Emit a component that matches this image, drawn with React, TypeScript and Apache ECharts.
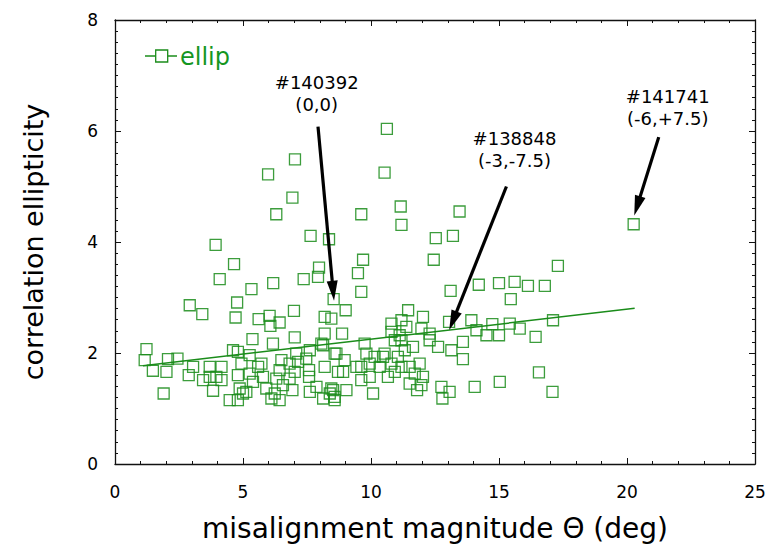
import React, { useEffect, useRef } from "react";
import * as echarts from "echarts";

// misalignment magnitude Θ (deg)
const theta = [
  10.62, 10.53, 7.03, 5.98, 6.93, 6.3, 9.62, 11.16, 11.19, 13.46, 20.26,
  3.93, 7.64, 8.36, 4.65, 4.09, 6.18, 5.33, 7.97, 7.93, 7.37,
  12.53, 13.2, 9.69, 12.45, 9.49, 9.62, 13.11, 14.21, 15.0, 15.61, 16.13, 16.79, 17.3, 15.46,
  2.92, 3.41, 4.77, 4.71, 5.61, 6.04, 6.43, 6.99, 6.07, 8.54, 8.19, 8.45,
  5.37, 6.17, 7.02, 8.19, 8.06,
  9.01, 11.45, 11.19, 12.03, 10.8, 11.97, 13.05, 13.92, 14.74, 15.42, 15.81, 17.11, 14.12, 14.51, 15.0, 16.43,
  8.87, 9.75, 10.8, 11.19, 11.64, 12.29, 12.62, 13.14, 13.59, 13.59, 11.12, 11.38, 10.93, 12.29,
  1.23, 1.16, 2.07, 2.44, 1.48, 2.01, 1.9, 2.88, 3.05, 3.44, 3.7, 3.83, 4.16, 4.16, 4.61, 4.8, 4.8, 4.87, 4.8,
  5.26, 5.26, 5.39, 5.13, 5.59, 5.91, 6.11, 6.43, 6.3, 6.43, 6.5, 6.56, 6.82, 6.82, 6.93, 7.15, 7.02,
  7.58, 7.58, 7.61, 7.61, 8.13, 8.19, 8.13, 8.45, 8.58, 8.65, 8.71, 3.96, 5.72,
  3.7, 4.94, 5.78, 7.08, 7.47, 7.87, 8.39, 6.24, 4.48, 5.0,
  8.58, 8.97, 8.91, 8.52, 8.58, 9.04, 9.62, 9.62, 9.82, 10.08, 10.14, 10.34, 10.53, 10.66, 10.8,
  11.05, 11.19, 11.32, 11.51, 11.71, 11.8, 11.9, 11.97, 12.75, 12.79, 13.07, 14.05, 15.03, 16.56, 17.09,
  9.95, 9.43, 9.95, 10.47, 10.93, 11.51, 12.03,
];

// correlation ellipticity
const ellipticity = [
  6.04, 5.25, 5.49, 5.22, 4.8, 4.5, 4.5, 4.64, 4.31, 4.55, 4.32,
  3.95, 4.11, 4.05, 3.6, 3.33, 3.26, 3.15, 3.54, 3.37, 3.33,
  4.07, 4.11, 3.68, 3.68, 3.44, 3.1, 3.12, 3.23, 3.26, 3.28, 3.21, 3.21, 3.57, 2.97,
  2.86, 2.7, 2.91, 2.64, 2.61, 2.67, 2.55, 2.76, 2.49, 2.97, 2.65, 2.62,
  2.25, 2.17, 2.28, 2.35, 2.17,
  2.77, 2.77, 2.59, 2.65, 2.53, 2.44, 2.56, 2.59, 2.52, 2.53, 2.44, 2.59, 2.41, 2.32, 2.32, 2.29,
  2.35, 2.17, 2.38, 2.23, 2.11, 2.35, 2.11, 2.05, 2.2, 1.89, 2.32, 2.47, 2.23, 2.23,
  2.07, 1.87, 1.89, 1.9, 1.68, 1.66, 1.27, 1.6, 1.75, 1.51, 1.57, 1.32, 1.75, 1.51, 2.05, 2.02, 1.6, 1.36, 1.15,
  1.96, 1.63, 1.48, 1.3, 1.75, 1.36, 1.18, 1.15, 1.54, 1.69, 1.87, 1.42, 1.81, 1.54, 1.33, 1.84, 1.66,
  1.69, 1.57, 1.3, 2.05, 2.14, 1.75, 1.18, 1.36, 1.21, 1.99, 1.66, 1.57, 1.81,
  1.75, 1.81, 1.57, 1.99, 1.9, 1.39, 1.27, 1.27, 1.15, 1.27,
  1.99, 1.87, 1.66, 1.33, 1.15, 1.33, 1.75, 1.51, 1.99, 1.27, 1.93, 1.75, 1.99, 1.57, 1.81,
  1.93, 1.75, 2.05, 1.45, 1.63, 1.33, 1.81, 1.42, 1.39, 1.18, 1.3, 1.39, 1.48, 1.65, 1.3,
  1.57, 1.75, 1.81, 1.93, 1.66, 1.75, 1.57,
];

// linear fit endpoints [Θ, ellipticity]
const fitLine = [
  [1.09, 1.77],
  [20.3, 2.805],
];

// annotation arrows: start [Θ, e] -> tip [Θ, e]
const arrowFrom = [
  [7.93, 6.08],
  [15.29, 5.0],
  [21.24, 5.89],
];
const arrowTo = [
  [8.52, 3.12],
  [13.2, 2.58],
  [20.4, 4.65],
];
const annotationTexts = ["#140392\n(0,0)", "#138848\n(-3,-7.5)", "#141741\n(-6,+7.5)"];

const GREEN = "#1a8c1a";
const FONT = "DejaVu Sans";

export default function App() {
  const ref = useRef<HTMLDivElement>(null);

  useEffect(() => {
    if (!ref.current) return;
    document.body.style.margin = "0";
    const chart = echarts.init(ref.current, undefined, { renderer: "svg" });

    const points = theta.map((t, i) => [t, ellipticity[i]]);

    const axisCommon = {
      axisLine: { show: true, onZero: false, lineStyle: { color: "#111", width: 1.3 } },
      axisTick: { show: true, inside: true, length: 6, lineStyle: { color: "#111", width: 1 } },
      minorTick: { show: true, length: 3, lineStyle: { color: "#111", width: 1 } },
      splitLine: { show: false },
      minorSplitLine: { show: false },
    };

    const annPos = [
      [316.7, 71.5],
      [514.5, 127],
      [667.7, 85],
    ];

    chart.setOption({
      animation: false,
      backgroundColor: "#fff",
      grid: { left: 115, right: 20, top: 20, bottom: 85 },
      xAxis: [
        {
          type: "value",
          min: 0,
          max: 25,
          interval: 5,
          name: "misalignment magnitude Θ (deg)",
          nameLocation: "middle",
          nameGap: 50,
          nameTextStyle: { fontFamily: FONT, fontSize: 28, color: "#000" },
          axisLabel: { margin: 19, fontFamily: FONT, fontSize: 17, color: "#000" },
          ...axisCommon,
          minorTick: { ...axisCommon.minorTick, splitNumber: 5 },
        },
        {
          type: "value",
          position: "top",
          min: 0,
          max: 25,
          interval: 5,
          axisLabel: { show: false },
          ...axisCommon,
          minorTick: { ...axisCommon.minorTick, splitNumber: 5 },
        },
      ],
      yAxis: [
        {
          type: "value",
          min: 0,
          max: 8,
          interval: 2,
          name: "correlation ellipticity",
          nameLocation: "middle",
          nameGap: 68,
          nameTextStyle: { fontFamily: FONT, fontSize: 27, color: "#000" },
          axisLabel: { margin: 17, fontFamily: FONT, fontSize: 17, color: "#000", padding: [0, 0, 6, 0] },
          ...axisCommon,
          minorTick: { ...axisCommon.minorTick, splitNumber: 10 },
        },
        {
          type: "value",
          position: "right",
          min: 0,
          max: 8,
          interval: 2,
          axisLabel: { show: false },
          ...axisCommon,
          minorTick: { ...axisCommon.minorTick, splitNumber: 10 },
        },
      ],
      series: [
        {
          name: "ellip",
          type: "scatter",
          data: points,
          symbol: "rect",
          symbolSize: 11,
          itemStyle: { color: "rgba(0,0,0,0)", borderColor: GREEN, borderWidth: 1.3, opacity: 0.85 },
          emphasis: { disabled: true },
          markLine: {
            silent: true,
            symbol: ["none", "triangle"],
            symbolSize: [11, 20],
            lineStyle: { color: "#000", width: 3.2, type: "solid" },
            itemStyle: { color: "#000" },
            label: { show: false },
            data: arrowFrom.map((f, i) => [{ coord: f }, { coord: arrowTo[i] }]),
          },
        },
        {
          name: "fit",
          type: "line",
          data: fitLine,
          showSymbol: false,
          symbol: "none",
          lineStyle: { color: GREEN, width: 1.5 },
          silent: true,
        },
      ],
      graphic: [
        { type: "line", shape: { x1: 145, y1: 56, x2: 177, y2: 56 }, style: { stroke: GREEN, lineWidth: 1.5 } },
        { type: "rect", shape: { x: 155.7, y: 50, width: 12, height: 12 }, style: { stroke: GREEN, fill: "#fff", lineWidth: 1.3 } },
        {
          type: "text",
          x: 180,
          y: 57,
          style: { text: "ellip", fontFamily: FONT, fontSize: 24, fill: "#15961f", verticalAlign: "middle" },
        },
        ...annotationTexts.map((t, i) => ({
          type: "text",
          x: annPos[i][0],
          y: annPos[i][1],
          style: {
            text: t,
            fontFamily: FONT,
            fontSize: 18,
            lineHeight: 22,
            fill: "#000",
            align: "center",
            verticalAlign: "top",
          },
        })),
      ],
    });

    return () => chart.dispose();
  }, []);

  return <div ref={ref} style={{ position: "absolute", left: 0, top: 0, width: 775, height: 549 }} />;
}
